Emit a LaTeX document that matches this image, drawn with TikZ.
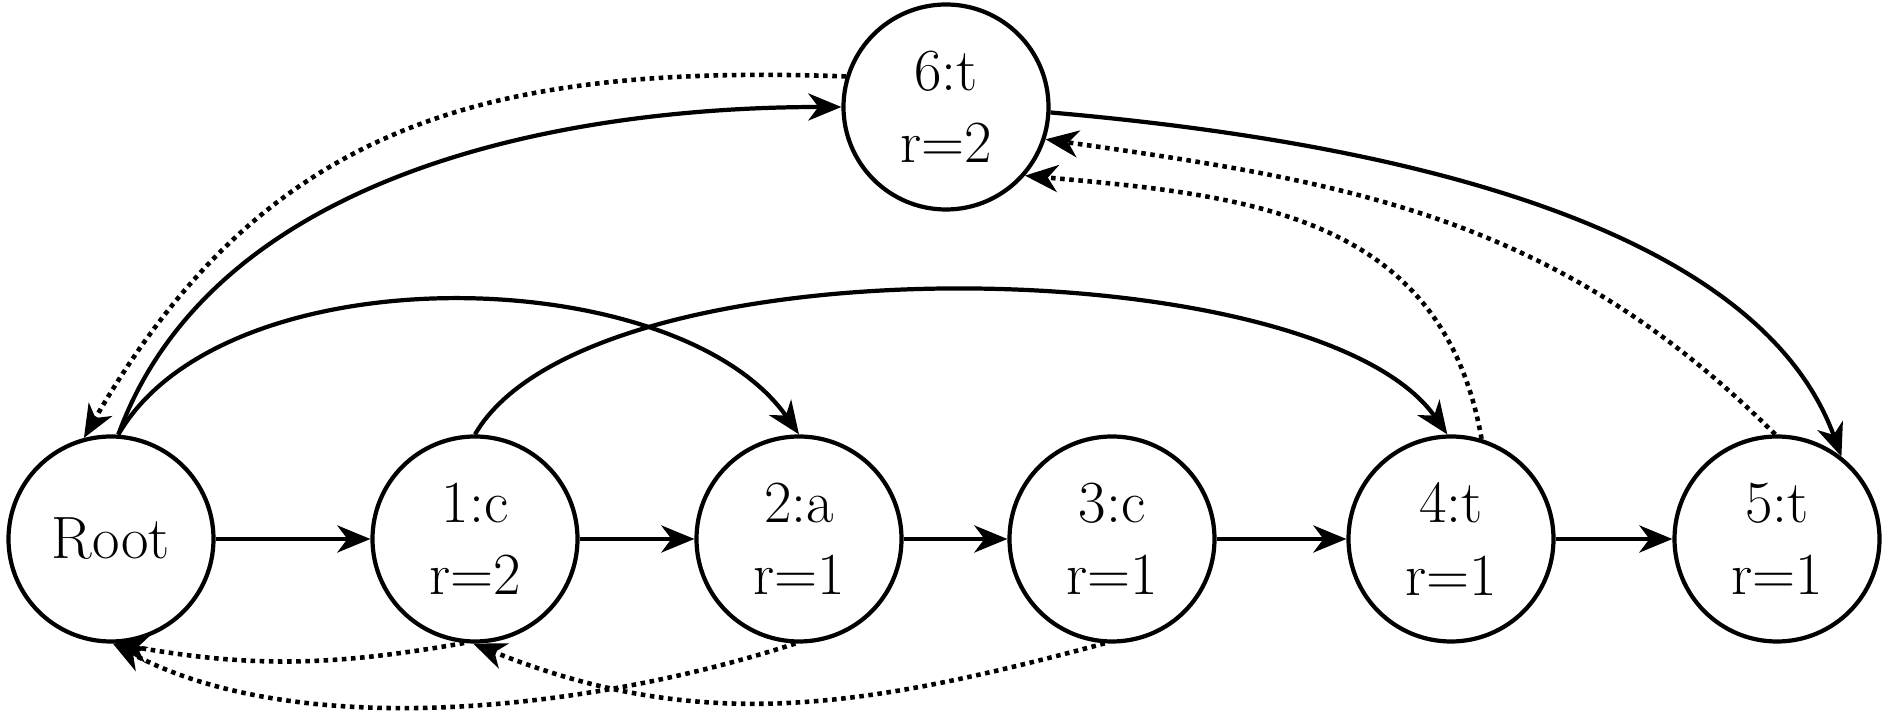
\documentclass[tikz,border=0pt]{standalone}
\usepackage{fontspec}
\usetikzlibrary{arrows.meta}

\begin{document}
\begin{tikzpicture}
    \def\yrow{1.74}
    \def\ytop{6.06}
    \tikzset{vtx/.style={circle, draw, line width=1.2pt, minimum size=2.05cm, inner sep=0pt, align=center, font=\fontsize{17}{20.5}\selectfont}}
    \tikzset{arr/.style={line width=1.2pt, -{Stealth[length=0.33cm, width=0.27cm, inset=0.1cm]}}}
    \tikzset{back/.style={arr, line width=1.3pt, dash pattern=on 1.3pt off 1.3pt}}
    \useasboundingbox (0, 0) rectangle (18.9, 7.13);

    \node[vtx] (root) at (1.11, \yrow) {Root};
    \node[vtx] (n1) at (4.75, \yrow) {1:c\\r=2};
    \node[vtx] (n2) at (7.99, \yrow) {2:a\\r=1};
    \node[vtx] (n3) at (11.12, \yrow) {3:c\\r=1};
    \node[vtx] (n4) at (14.51, \yrow) {4:t\\r=1};
    \node[vtx] (n5) at (17.77, \yrow) {5:t\\r=1};
    \node[vtx] (n6) at (9.46, \ytop) {6:t\\r=2};

    \foreach \a/\b in {root/n1, n1/n2, n2/n3, n3/n4, n4/n5} {
        \draw[arr] (\a) -- (\b);
    }
    \draw[arr] (root.86) to[out=70, in=180, looseness=0.9] (n6.180);
    \draw[arr] (root.86) to[out=60, in=125, looseness=0.8] (n2.90);
    \draw[arr] (n1.90) to[out=60, in=125, looseness=0.6] (n4.92);
    \draw[arr] (n6.-3) to[out=-5, in=110, looseness=0.8] (n5.52);

    \draw[back] (n6.163) to[out=178, in=60, looseness=1.1] (root.105);
    \draw[back] (n4.73) to[out=100, in=-5, looseness=1.1] (n6.-41);
    \draw[back] (n5.91) to[out=135, in=-8] (n6.-18);
    \draw[back] (n1.-96) to[out=190, in=-10] (root.-88);
    \draw[back] (n2.-92) to[out=198, in=-28, looseness=0.8] (root.-89);
    \draw[back] (n3.-94) to[out=195, in=-22] (n1.-91);

\end{tikzpicture}
\end{document}
